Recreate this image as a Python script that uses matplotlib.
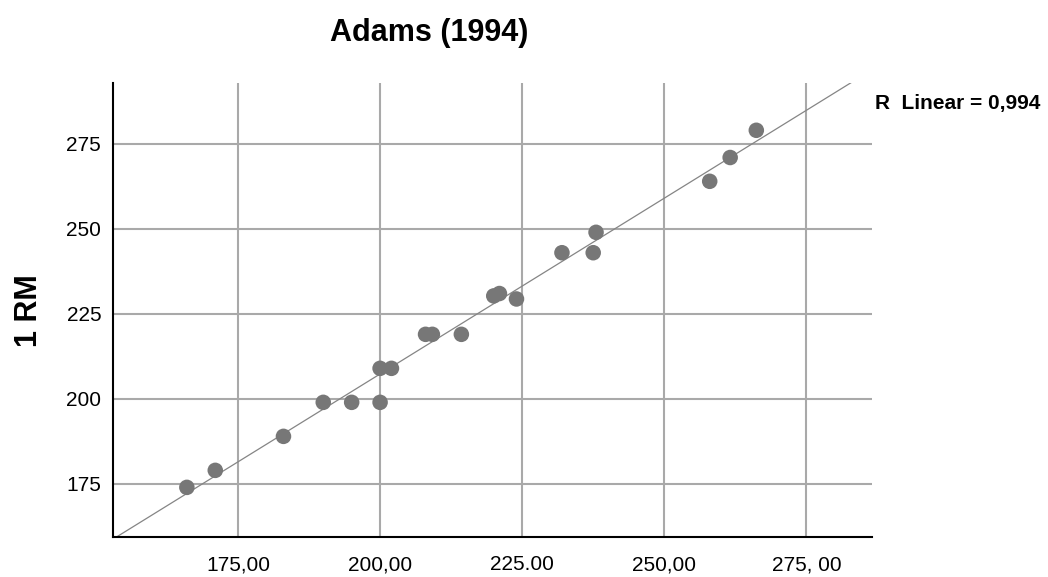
import numpy as np
import matplotlib
matplotlib.use('Agg')
from matplotlib import pyplot as plt

plt.rcParams['font.family'] = ['Liberation Sans', 'DejaVu Sans']

predicted = [166, 171, 183, 190, 195, 200, 200, 202, 208, 209.2, 214.3,
             220, 221, 224, 232, 237.5, 238, 258, 261.6, 266.2]
rm = [174, 179, 189, 199, 199, 199, 209, 209, 219, 219, 219,
      230.3, 231, 229.4, 243, 243, 249, 264, 271, 279]

x_ticks = [175, 200, 225, 250, 275]
x_labels = ['175,00', '200,00', '225.00', '250,00', '275, 00']
y_ticks = [175, 200, 225, 250, 275]
r_text = 'R  Linear = 0,994'

fig = plt.figure(figsize=(10.48, 5.77), dpi=100)
ax = fig.add_axes([0.1078, 0.0693, 0.7245, 0.7868])

ax.set_xlim(153, 286.6)
ax.set_ylim(159.4, 292.9)

ax.grid(True, color='#a9a9a9', linewidth=1.5)
ax.set_axisbelow(True)

slope, icpt = np.polyfit(predicted, rm, 1)
xs = np.array(ax.get_xlim())
ax.plot(xs, slope * xs + icpt, color='#858585', linewidth=0.9, zorder=2)

ax.scatter(predicted, rm, s=125, color='#777777', edgecolors='none', zorder=3)

ax.set_xticks(x_ticks)
ax.set_xticklabels(x_labels)
ax.set_yticks(y_ticks)
ax.tick_params(axis='both', length=0, labelsize=15)
ax.tick_params(axis='y', pad=8.5)
ax.tick_params(axis='x', pad=13)

for s in ['top', 'right']:
    ax.spines[s].set_visible(False)
for s in ['left', 'bottom']:
    ax.spines[s].set_linewidth(1.5)
    ax.spines[s].set_color('black')

fig.text(0.41, 0.943, 'Adams (1994)', fontsize=22, fontweight='bold',
         ha='center', va='center')
fig.text(0.028, 0.461, '1 RM', fontsize=22, fontweight='bold', rotation=90,
         ha='center', va='center')
fig.text(0.835, 0.821, r_text, fontsize=15, fontweight='bold',
         ha='left', va='center')

fig.savefig('out.png', dpi=100)
